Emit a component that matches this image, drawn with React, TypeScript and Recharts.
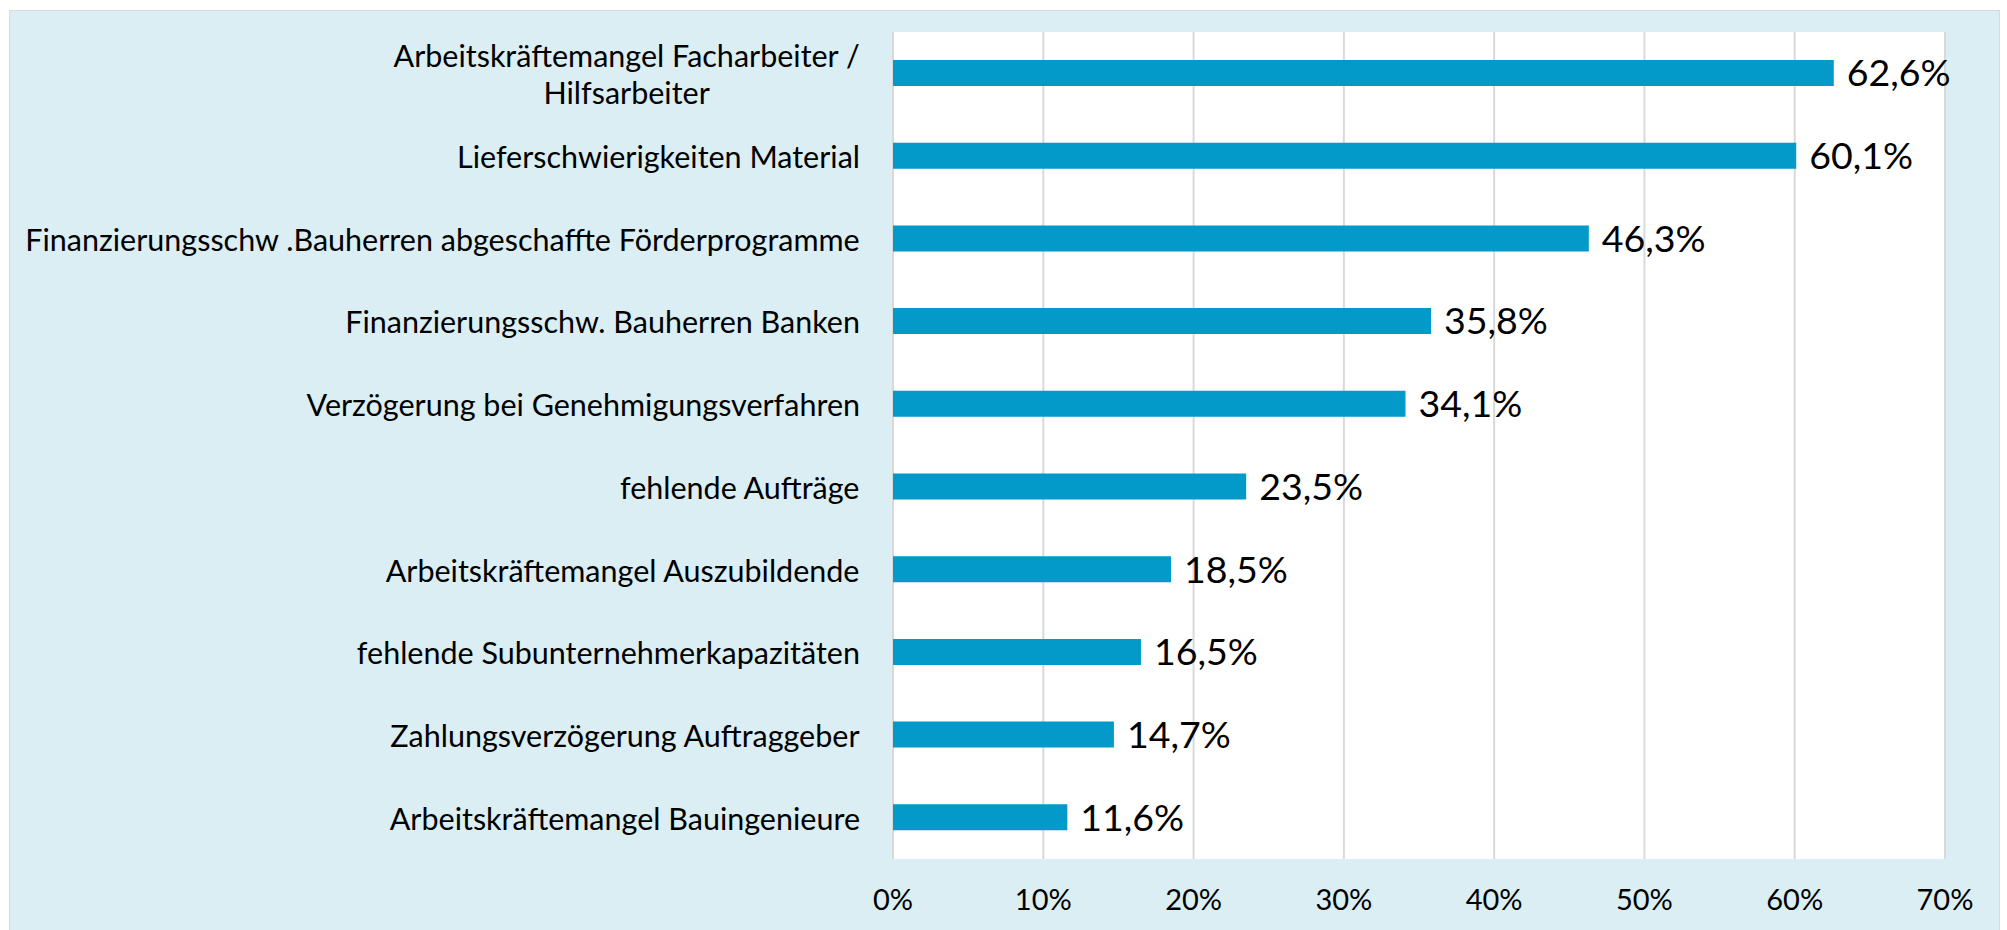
import { Bar, BarChart, CartesianGrid, LabelList, XAxis, YAxis } from 'recharts';

const CATEGORIES = [
  'Arbeitskräftemangel Facharbeiter /\nHilfsarbeiter',
  'Lieferschwierigkeiten Material',
  'Finanzierungsschw .Bauherren abgeschaffte Förderprogramme',
  'Finanzierungsschw. Bauherren Banken',
  'Verzögerung bei Genehmigungsverfahren',
  'fehlende Aufträge',
  'Arbeitskräftemangel Auszubildende',
  'fehlende Subunternehmerkapazitäten',
  'Zahlungsverzögerung Auftraggeber',
  'Arbeitskräftemangel Bauingenieure',
];
const VALUES = [62.6, 60.1, 46.3, 35.8, 34.1, 23.5, 18.5, 16.5, 14.7, 11.6];
const X_TICKS = [0, 10, 20, 30, 40, 50, 60, 70];

const BAR_COLOR = '#0399C9';
const PANEL_COLOR = '#DAEEF3';
const GRID_COLOR = '#D9D9D9';
const FONT = 'Lato, "Open Sans", sans-serif';
const CAT_SIZE = 30.5;
const LINE_HEIGHT = 37;

const data = CATEGORIES.map((name, i) => ({ name, value: VALUES[i] }));

let ctx: CanvasRenderingContext2D | null = null;
function measure(text: string, size: number): number {
  if (!ctx) ctx = document.createElement('canvas').getContext('2d');
  if (!ctx) return text.length * size * 0.5;
  ctx.font = `${size}px ${FONT}`;
  return ctx.measureText(text).width;
}

function CategoryTick({ x, y, payload }: any) {
  const lines = String(payload.value).split('\n');
  const maxW = Math.max(...lines.map((l) => measure(l, CAT_SIZE)));
  const cx = x - maxW / 2;
  const startY = y - ((lines.length - 1) * LINE_HEIGHT) / 2;
  return (
    <g>
      {lines.map((line, i) => (
        <text
          key={i}
          x={cx}
          y={startY + i * LINE_HEIGHT}
          textAnchor="middle"
          dominantBaseline="central"
          fontFamily={FONT}
          fontSize={CAT_SIZE}
          fill="#000"
        >
          {line}
        </text>
      ))}
    </g>
  );
}

const pct = (v: number) => `${v.toFixed(1).replace('.', ',')}%`;

export default function App() {
  return (
    <div style={{ position: 'fixed', left: 0, top: 0, width: 2007, height: 930, background: '#fff' }}>
      <div
        style={{
          position: 'absolute',
          left: 9,
          top: 10,
          width: 1991,
          height: 930,
          boxSizing: 'border-box',
          background: PANEL_COLOR,
          borderLeft: `1px solid ${GRID_COLOR}`,
          borderTop: `1px solid ${GRID_COLOR}`,
          borderRight: `1px solid ${GRID_COLOR}`,
        }}
      />
      <div style={{ position: 'absolute', left: 0, top: 0 }}>
        <BarChart
          width={2007}
          height={930}
          data={data}
          layout="vertical"
          margin={{ top: 32, right: 62, bottom: 0, left: 0 }}
        >
          <CartesianGrid horizontal={false} stroke={GRID_COLOR} strokeWidth={2} fill="#fff" />
          <XAxis
            type="number"
            domain={[0, 70]}
            ticks={X_TICKS}
            tickFormatter={(v) => `${v}%`}
            axisLine={false}
            tickLine={false}
            tickSize={0}
            tickMargin={30}
            height={71}
            tick={{ fontSize: 29, fill: '#000', fontFamily: FONT }}
          />
          <YAxis
            type="category"
            dataKey="name"
            width={893}
            axisLine={false}
            tickLine={false}
            tickSize={0}
            tickMargin={33}
            interval={0}
            tick={<CategoryTick />}
          />
          <Bar dataKey="value" fill={BAR_COLOR} barSize={26} isAnimationActive={false}>
            <LabelList
              dataKey="value"
              position="right"
              offset={13}
              formatter={(v: any) => pct(Number(v))}
              fill="#000"
              fontSize={37.5}
              fontFamily={FONT}
            />
          </Bar>
        </BarChart>
      </div>
    </div>
  );
}
